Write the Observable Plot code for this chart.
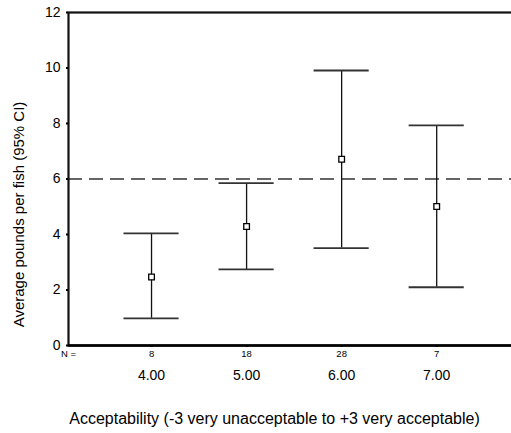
<!DOCTYPE html>
<html>
<head>
<meta charset="utf-8">
<script src="https://cdn.jsdelivr.net/npm/d3@7"></script>
<script src="https://cdn.jsdelivr.net/npm/@observablehq/plot@0.6"></script>
<style>
  html, body { margin: 0; padding: 0; background: #fff; overflow: hidden; }
  #chart svg { display: block; overflow: visible; }
</style>
</head>
<body>
<div id="chart"></div>
<script>
const categories = ["4.00", "5.00", "6.00", "7.00"];
const means = [2.47, 4.29, 6.71, 5.01];
const lower = [0.98, 2.74, 3.51, 2.10];
const upper = [4.04, 5.85, 9.91, 7.93];
const counts = [8, 18, 28, 7];
const yTicks = [0, 2, 4, 6, 8, 10, 12];
const referenceLine = [6];
const baseLine = [0];
const xLabel = "Acceptability (-3 very unacceptable to +3 very acceptable)";
const yLabel = "Average pounds per fish (95% CI)";

const data = categories.map((c, i) => ({cat: c, mean: means[i], lo: lower[i], hi: upper[i], n: counts[i]}));

const chart = Plot.plot({
  width: 511,
  height: 433,
  marginLeft: 68,
  marginRight: -30,
  marginTop: 12,
  marginBottom: 88,
  style: {fontFamily: "'Liberation Sans', Arial, sans-serif", color: "#000", background: "#fff", overflow: "visible"},
  x: {type: "band", domain: categories, paddingInner: 0.42, paddingOuter: 0.698, align: 0.418, round: false},
  y: {domain: [0, 12]},
  marks: [
    Plot.ruleY(referenceLine, {stroke: "#333", strokeWidth: 1.5, strokeDasharray: "14,7"}),
    Plot.ruleX(data, {x: "cat", y1: "lo", y2: "hi", stroke: "#111", strokeWidth: 1.3}),
    Plot.tickY(data, {x: "cat", y: "hi", stroke: "#333", strokeWidth: 1.8}),
    Plot.tickY(data, {x: "cat", y: "lo", stroke: "#333", strokeWidth: 1.8}),
    Plot.dot(data, {x: "cat", y: "mean", symbol: "square", r: 3.2, fill: "#fff", stroke: "#000", strokeWidth: 1.3}),
    Plot.frame({stroke: "#111", strokeWidth: 2.2}),
    Plot.ruleY(baseLine, {stroke: "#000", strokeWidth: 2.5}),
    Plot.axisY({ticks: yTicks, tickSize: 2, strokeWidth: 2, tickPadding: 6, fontSize: 14, label: null}),
    Plot.axisX({tickSize: 2, strokeWidth: 2, tickPadding: 23, fontSize: 14, label: null}),
    Plot.text(data, {x: "cat", text: "n", frameAnchor: "bottom", dy: 11, fontSize: 9.5}),
    Plot.text(["N ="], {frameAnchor: "bottom-left", dy: 11, fontSize: 9.5, textAnchor: "middle"}),
    Plot.text([xLabel], {frameAnchor: "bottom", textAnchor: "middle", dx: -30.5, dy: 78, fontSize: 16}),
    Plot.text([yLabel], {frameAnchor: "left", textAnchor: "middle", rotate: -90, dx: -49, dy: 35.5, fontSize: 15})
  ]
});
document.getElementById("chart").appendChild(chart);
</script>
</body>
</html>
